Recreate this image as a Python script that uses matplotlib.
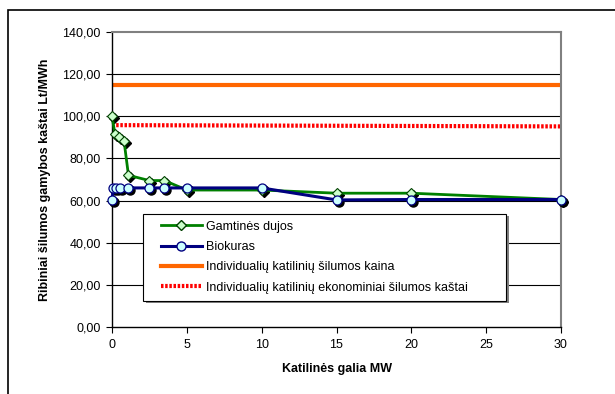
import matplotlib
matplotlib.use("Agg")
import matplotlib.pyplot as plt
import matplotlib.transforms as mtransforms
from matplotlib.patches import Rectangle
from matplotlib.lines import Line2D

plt.rcParams['font.family'] = ['Liberation Sans', 'DejaVu Sans']

# data
dujos_x = [0, 0.2, 0.5, 0.8, 1.1, 2.5, 3.5, 5, 10, 15, 20, 30]
dujos_y = [100.0, 91.5, 90.0, 88.5, 72.0, 69.5, 69.5, 65.0, 65.0, 63.5, 63.5, 60.5]
bio_x = [0, 0.1, 0.3, 0.55, 1.1, 2.5, 3.5, 5, 10, 15, 20, 30]
bio_y = [60.5, 66.0, 66.0, 66.0, 66.0, 66.0, 66.0, 66.0, 66.0, 60.3, 60.5, 60.5]
kaina_x = [0, 30]
kaina_y = [115.0, 115.0]
kastai_x = [0, 30]
kastai_y = [95.8, 95.2]

labels = ['Gamtinės dujos', 'Biokuras',
          'Individualių katilinių šilumos kaina',
          'Individualių katilinių ekonominiai šilumos kaštai']
y_ticks = [0, 20, 40, 60, 80, 100, 120, 140]
x_ticks = [0, 5, 10, 15, 20, 25, 30]

fig = plt.figure(figsize=(6.15, 3.94), dpi=100)
ax = fig.add_axes([112 / 615, 67 / 394, 449 / 615, 295 / 394])

# horizontal grid
for v in y_ticks[1:-1]:
    ax.axhline(v, color='black', lw=0.8, zorder=1)

ax.plot(kaina_x, kaina_y, color='#ff6600', lw=3, zorder=2, solid_capstyle='butt')
ax.plot(kastai_x, kastai_y, color='#ff0000', lw=3, ls=(0, (0.6, 0.4)), zorder=2)

# shadows under markers (Excel style)
shadow = mtransforms.offset_copy(ax.transData, fig=fig, x=2, y=-2, units='dots')
ax.plot(dujos_x, dujos_y, ls='none', marker='D', ms=4.6, color='black',
        transform=shadow, zorder=3, clip_on=False)
ax.plot(bio_x, bio_y, ls='none', marker='o', ms=6.5, color='black',
        transform=shadow, zorder=3, clip_on=False)

ax.plot(dujos_x, dujos_y, color='#008000', lw=2, marker='D', ms=4.6,
        mfc='#ccffcc', mec='#004000', mew=0.8, zorder=4, clip_on=False)
ax.plot(bio_x, bio_y, color='#000080', lw=2.2, marker='o', ms=6.5,
        mfc='#ccffff', mec='#000080', mew=0.9, zorder=5, clip_on=False)

ax.set_xlim(0, 30)
ax.set_ylim(0, 140)
ax.set_xticks(x_ticks)
ax.set_yticks(y_ticks)
ax.set_yticklabels(['{:.2f}'.format(v).replace('.', ',') for v in y_ticks])
ax.tick_params(direction='out', length=4, width=0.8, labelsize=9, colors='black')
ax.tick_params(axis='y', pad=4)
ax.tick_params(axis='x', pad=5)

for s in ['left', 'bottom']:
    ax.spines[s].set_color('black')
    ax.spines[s].set_linewidth(1)
for s in ['top', 'right']:
    ax.spines[s].set_color('#808080')
    ax.spines[s].set_linewidth(1.5)

ax.set_xlabel('Katilinės galia MW', fontsize=9, fontweight='bold', labelpad=8)
ax.set_ylabel('Ribiniai šilumos gamybos kaštai Lt/MWh', fontsize=9,
              fontweight='bold', labelpad=8)

# legend box drawn by hand, with shadow
fig.add_artist(Rectangle((146 / 615, (394 - 303) / 394), 363 / 615, 87 / 394,
                         transform=fig.transFigure, facecolor='#808080',
                         edgecolor='none', zorder=6))
fig.add_artist(Rectangle((143 / 615, (394 - 301) / 394), 363 / 615, 87 / 394,
                         transform=fig.transFigure, facecolor='white',
                         edgecolor='black', lw=0.8, zorder=7))
handles = [
    Line2D([], [], color='#008000', lw=2, marker='D', ms=4.6, mfc='#ccffcc', mec='#004000'),
    Line2D([], [], color='#000080', lw=2.2, marker='o', ms=6.5, mfc='#ccffff', mec='#000080'),
    Line2D([], [], color='#ff6600', lw=3),
    Line2D([], [], color='#ff0000', lw=3, ls=(0, (0.6, 0.4))),
]
leg = fig.legend(handles, labels, loc='upper left',
                 bbox_to_anchor=(152 / 615, (394 - 212) / 394),
                 frameon=False, fontsize=9, handlelength=3.3,
                 handletextpad=0.3, labelspacing=0.66, borderpad=0.2)
leg.set_zorder(8)

# outer chart border
fig.add_artist(Rectangle((8 / 615, -0.05), 1.2, (394 - 10) / 394 + 0.05,
                         transform=fig.transFigure, facecolor='none',
                         edgecolor='black', lw=1.2, zorder=0))

fig.savefig('out.png', dpi=100)
